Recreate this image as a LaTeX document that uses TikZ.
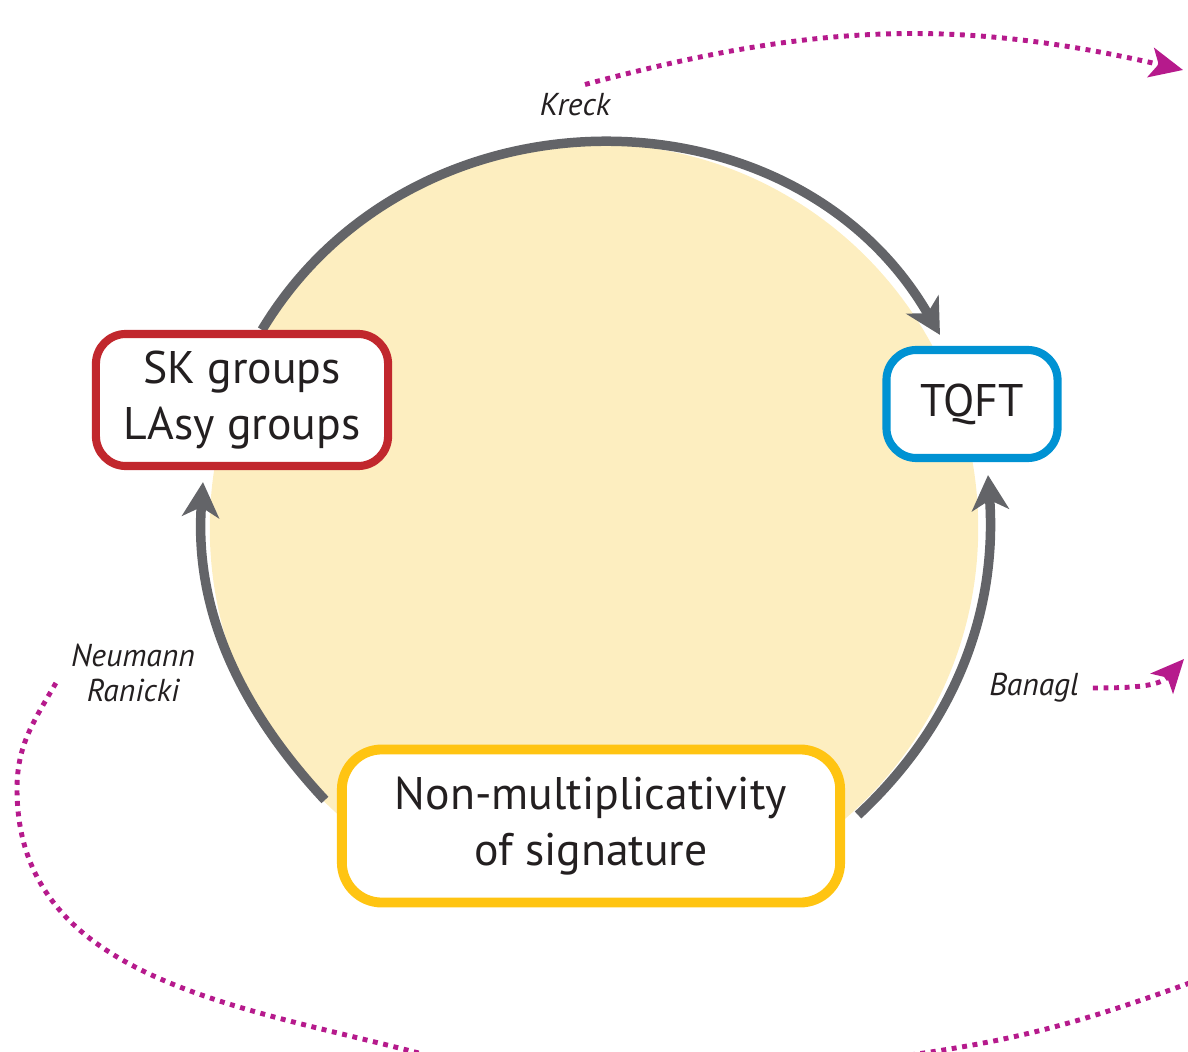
\documentclass[tikz,border=0pt]{standalone}
\usepackage{fontspec}
\setmainfont{PT Sans}
\usetikzlibrary{arrows.meta,backgrounds}

\definecolor{discfill}{RGB}{253,238,192}
\definecolor{arcgray}{RGB}{99,100,104}
\definecolor{skred}{RGB}{193,39,45}
\definecolor{tqblue}{RGB}{0,146,211}
\definecolor{sigyellow}{RGB}{255,196,18}
\definecolor{dotmag}{RGB}{182,26,140}
\definecolor{inkdark}{RGB}{35,31,32}

\tikzset{
	box/.style={draw, fill=white, rounded corners=0.3cm, line width=2.3pt, align=center, inner sep=0pt, text=inkdark, font=\fontsize{13}{16}\selectfont},
	who/.style={text=inkdark, align=center, inner sep=1pt, font=\fontsize{9}{10}\selectfont\itshape},
	grayarc/.style={draw=arcgray, line width=2.7pt, -{Stealth[length=0.35cm,width=0.37cm,inset=0.1cm]}},
	dotline/.style={draw=dotmag, line width=1.4pt, dash pattern=on 1.4pt off 1.6pt},
	dotarrow/.style={dotline, -{Stealth[length=0.33cm,width=0.3cm,inset=0.08cm]}},
}

\begin{document}
\begin{tikzpicture}[x=0.01cm, y=0.01cm]
			\useasboundingbox (0,0) rectangle (1188,1051);
			\clip (0,0) rectangle (1188,1051);
			\node [box, draw=skred, minimum width=2.92cm, minimum height=1.32cm] (sk) at (242,651) {SK groups\\LAsy groups};
			\node [box, draw=tqblue, minimum width=1.71cm, minimum height=1.08cm] (tqft) at (972,647) {TQFT};
			\node [box, draw=sigyellow, line width=2.8pt, rounded corners=0.4cm, minimum width=4.98cm, minimum height=1.53cm] (sig) at (591,225) {Non-multiplicativity\\of signature};
			\node [who] (kreck) at (575,946) {Kreck};
			\node [who] (nr) at (133,378) {Neumann\\Ranicki};
			\node [who] (banagl) at (1034,363) {Banagl};
			\coordinate (kreckend) at (1183,981);
			\coordinate (banaglend) at (1184,392);
			\coordinate (nrend) at (430,-5);
			\coordinate (loopin) at (910,-4);
			\coordinate (loopout) at (1195,70);
			\begin{scope}[on background layer]
				\begin{scope}
					\clip (0,148) rectangle (1188,1051);
					\fill [discfill] (594,523) circle (3.84cm);
				\end{scope}
				\draw [grayarc] ([xshift=0.2cm]sk.north) to[out=59, in=120, looseness=1.1] ([xshift=-0.32cm, yshift=0.11cm]tqft.north);
				\draw [grayarc] ([xshift=0.13cm, yshift=0.11cm]sig.east) to[out=43, in=274, looseness=0.95] ([xshift=0.16cm, yshift=-0.13cm]tqft.south);
				\draw [grayarc] ([xshift=-0.12cm, yshift=0.26cm]sig.west) to[out=133, in=266, looseness=0.95] ([xshift=-0.39cm, yshift=-0.12cm]sk.south);
			\end{scope}
			\draw [dotarrow] ([xshift=0.1cm, yshift=0.05cm]kreck.north) to[out=15, in=167] (kreckend);
			\draw [dotarrow] ([xshift=0.1cm]banagl.east) to[out=0, in=228] (banaglend);
			\draw [dotline] ([xshift=-0.11cm, yshift=-0.1cm]nr.west) to[out=240, in=90] (17,262) to[out=270, in=165] (nrend);
			\draw [dotline] (loopin) to[out=8, in=200] (loopout);
\end{tikzpicture}
\end{document}
